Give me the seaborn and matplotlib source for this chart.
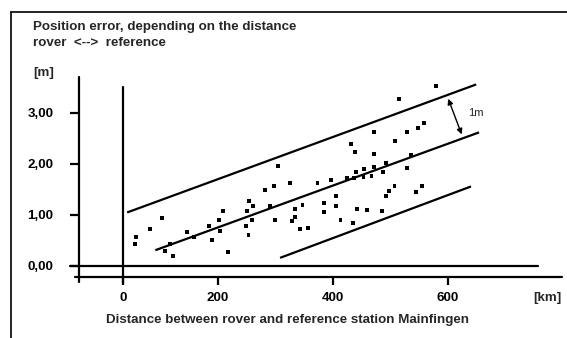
import matplotlib
matplotlib.use("Agg")
import matplotlib.pyplot as plt
import seaborn as sns
import pandas as pd

# Measured points: distance rover <-> reference [km], position error [m]
distance_km = [57, 56, 82, 103, 117, 108, 121, 146, 158, 185, 190, 202, 209, 204, 217,
               254, 261, 251, 259, 249, 253, 282, 291, 297, 305, 299, 326, 334, 334, 328,
               343, 347, 357, 373, 384, 384, 396, 405, 405, 413, 425, 432, 438, 440, 437,
               442, 434, 454, 453, 459, 467, 471, 471, 471, 487, 492, 486, 492, 498, 507,
               508, 514, 529, 529, 536, 544, 548, 554, 558, 579]
error_m = [0.56, 0.42, 0.72, 0.93, 0.43, 0.29, 0.18, 0.66, 0.56, 0.77, 0.50, 0.89, 1.07, 0.68, 0.27,
           1.26, 1.17, 1.07, 0.89, 0.77, 0.59, 1.48, 1.16, 1.55, 1.95, 0.89, 1.62, 1.10, 0.96, 0.87,
           0.71, 1.19, 0.74, 1.62, 1.22, 1.04, 1.68, 1.36, 1.17, 0.90, 1.72, 2.39, 2.23, 1.84, 1.71,
           1.11, 0.83, 1.89, 1.73, 1.09, 1.75, 2.62, 2.18, 1.93, 1.84, 2.01, 1.07, 1.36, 1.46, 1.55,
           2.44, 3.26, 2.62, 1.92, 2.16, 1.44, 2.69, 1.55, 2.79, 3.52]

# Band lines drawn on the chart (start/end)
upper_x, upper_y = [42, 649], [1.04, 3.55]
mid_x, mid_y = [91, 654], [0.30, 2.61]
lower_x, lower_y = [308, 640], [0.15, 1.55]

y_ticks = [0, 1, 2, 3]
y_labels = ["0,00", "1,00", "2,00", "3,00"]
x_ticks = [200, 400, 600]
x_labels = ["200", "400", "600"]

df = pd.DataFrame({"distance": distance_km, "error": error_m})

sns.set_theme(style="white")
plt.rcParams["font.family"] = ["Liberation Sans", "DejaVu Sans"]
plt.rcParams["font.weight"] = "bold"

W, H = 567, 338
fig = plt.figure(figsize=(W / 100, H / 100), dpi=100)
ax = fig.add_axes([0, 0, 1, 1])
ax.patch.set_alpha(0)

# pixel mapping of the scanned chart: x_px = 103 + 0.575*km, y_px = 265.5 - 51*m
ax.set_xlim(-103 / 0.575, (W - 103) / 0.575)
ax.set_ylim((265.5 - H) / 51, 265.5 / 51)

zero_x = 34.3      # where the drawn origin line sits
left_x = -41.7     # left axis line
base_y = -0.225    # bottom axis line
lw = 1.6

sns.scatterplot(data=df, x="distance", y="error", marker="s", s=8, color="black",
                edgecolor="none", ax=ax, legend=False)
for xs, ys in [(upper_x, upper_y), (mid_x, mid_y), (lower_x, lower_y)]:
    ax.plot(xs, ys, color="black", lw=lw, solid_capstyle="butt")

# axis and reference lines
ax.plot([-57, 756], [0, 0], color="black", lw=lw)
ax.plot([zero_x, zero_x], [-0.34, 3.5], color="black", lw=lw)
ax.plot([left_x, left_x], [-0.33, 3.70], color="black", lw=lw)
ax.plot([-49, 798], [base_y, base_y], color="black", lw=lw)

for s in ["top", "right", "left", "bottom"]:
    ax.spines[s].set_visible(False)
ax.spines["left"].set_position(("data", left_x))
ax.spines["bottom"].set_position(("data", base_y))

ax.set_yticks(y_ticks, y_labels)
ax.set_xticks([zero_x] + x_ticks, ["0"] + x_labels)
ax.tick_params(axis="y", direction="out", length=6.5, width=lw, pad=12, labelsize=9.6,
               left=True, color="black", labelcolor="black")
ax.tick_params(axis="x", direction="out", length=6, width=lw, pad=5, labelsize=9.6,
               bottom=True, color="black", labelcolor="black")
ax.set_xlabel("")
ax.set_ylabel("")

# double arrow "1m"
ax.annotate("", xy=(598.7, 3.32), xytext=(625.5, 2.52),
            arrowprops=dict(arrowstyle="<|-|>", color="black", lw=1, mutation_scale=8))
ax.text(634.7, 2.99, "1m", fontsize=8, fontweight="normal", va="center", ha="left")

# texts
fig.text(33 / W, 1 - 27 / H, "Position error, depending on the distance", fontsize=9.6,
         fontweight="bold", va="center", ha="left")
fig.text(33 / W, 1 - 43 / H, "rover  <-->  reference", fontsize=9.6,
         fontweight="bold", va="center", ha="left")
fig.text(33 / W, 1 - 73 / H, "[m]", fontsize=9.6, fontweight="bold", va="center", ha="left")
fig.text(562 / W, 1 - 298 / H, "[km]", fontsize=9.6, fontweight="bold", va="center", ha="right")
fig.text(288 / W, 1 - 320 / H, "Distance between rover and reference station Mainfingen",
         fontsize=9.6, fontweight="bold", va="center", ha="center")

# outer frame (top and left)
fig.add_artist(plt.Line2D([11 / W, 1], [1 - 12 / H, 1 - 12 / H], color="black", lw=1.2,
                          transform=fig.transFigure))
fig.add_artist(plt.Line2D([11 / W, 11 / W], [0, 1 - 12 / H], color="black", lw=1.2,
                          transform=fig.transFigure))

fig.savefig("out.png", dpi=100, facecolor="white")
